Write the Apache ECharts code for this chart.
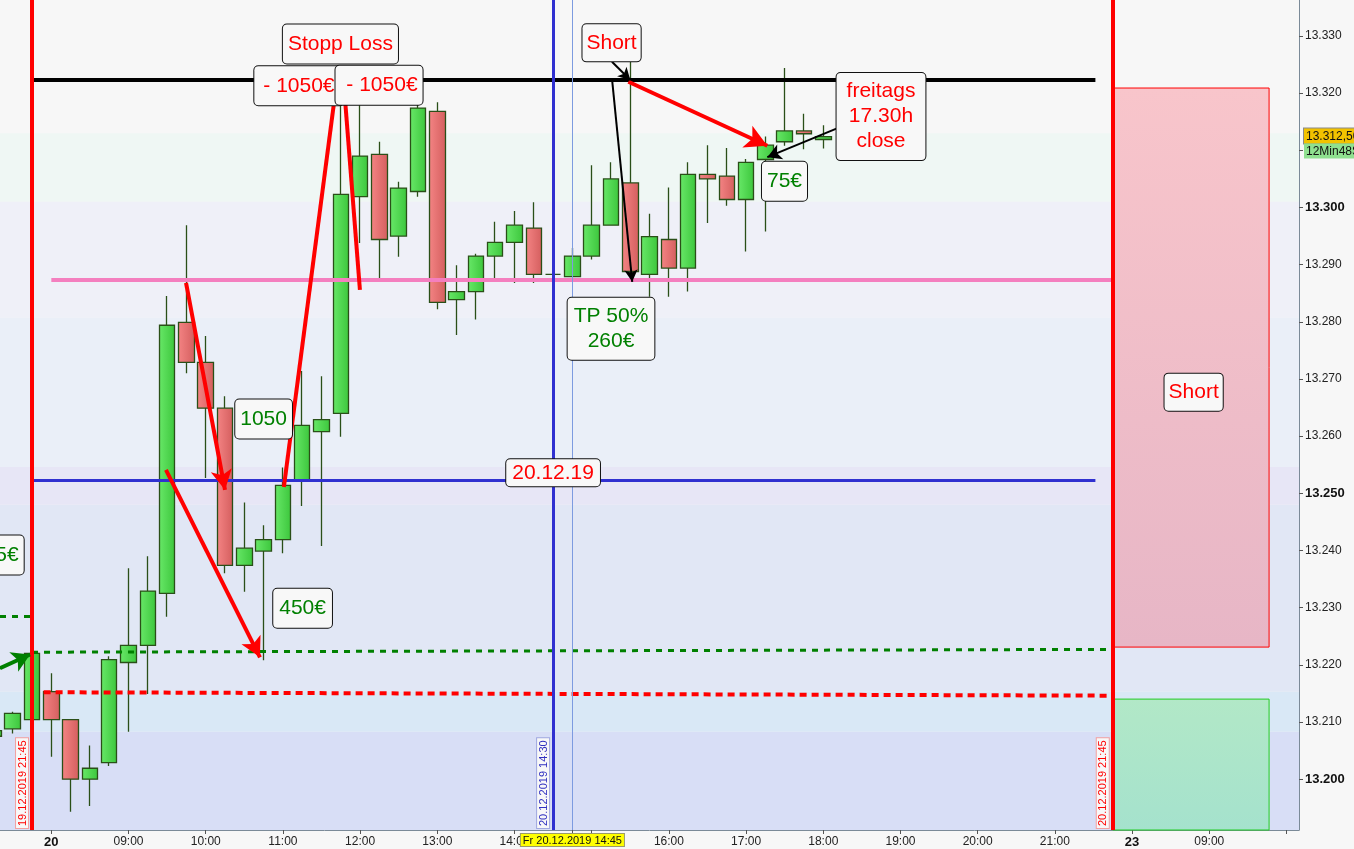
<!DOCTYPE html>
<html>
<head>
<meta charset="utf-8">
<title>DAX 15 Min - 20.12.2019</title>
<script src="https://cdn.jsdelivr.net/npm/echarts@6/dist/echarts.min.js"></script>
<style>
  html, body { margin: 0; padding: 0; background: #f7f7f7; }
  #chart { width: 1354px; height: 849px; }
</style>
</head>
<body>
<div id="chart"></div>
<script>
// 15 min candles, index 0 = Fr 20.12.2019 08:00 (negative = 19.12 evening)
const candleIdx = [-3, -2, -1, 0, 1, 2, 3, 4, 5, 6, 7, 8, 9, 10, 11, 12, 13, 14, 15, 16, 17, 18, 19,
  20, 21, 22, 23, 24, 25, 26, 27, 28, 29, 30, 31, 32, 33, 34, 35, 36, 37, 38, 39, 40];
const opens = [13207.5, 13208.8, 13210.4, 13215.3, 13210.4, 13200.0, 13202.9, 13220.4, 13223.4, 13232.5,
  13279.9, 13272.9, 13264.9, 13237.4, 13239.9, 13241.9, 13252.4, 13260.8, 13264.0, 13301.9, 13309.3,
  13295.0, 13302.8, 13316.8, 13283.9, 13285.3, 13291.5, 13293.9, 13296.4, 13288.3, 13287.9, 13291.5,
  13296.9, 13304.3, 13288.3, 13294.4, 13289.4, 13305.8, 13305.5, 13301.4, 13308.4, 13311.5, 13313.4, 13311.9];
const closes = [13208.5, 13211.5, 13222.0, 13210.4, 13200.0, 13201.9, 13220.9, 13223.4, 13232.9, 13279.4,
  13272.9, 13264.9, 13237.4, 13240.4, 13241.9, 13251.4, 13261.9, 13262.9, 13302.3, 13309.0, 13294.4,
  13303.4, 13317.4, 13283.4, 13285.3, 13291.5, 13293.9, 13296.9, 13288.3, 13288.3, 13291.5, 13296.9,
  13305.0, 13288.8, 13294.9, 13289.4, 13305.8, 13305.0, 13301.4, 13307.9, 13310.9, 13313.4, 13312.9, 13312.4];
const lows = [13206.5, 13208.0, 13210.0, 13203.9, 13194.3, 13195.3, 13202.3, 13208.3, 13214.9, 13228.4,
  13271.0, 13252.7, 13236.0, 13232.8, 13220.8, 13239.5, 13247.8, 13240.8, 13259.9, 13293.8, 13287.6,
  13291.4, 13301.9, 13282.2, 13277.7, 13280.4, 13287.6, 13286.8, 13286.8, 13288.3, 13287.9, 13290.9,
  13296.9, 13288.5, 13284.4, 13284.4, 13285.3, 13297.3, 13300.3, 13292.3, 13295.8, 13310.8, 13310.2, 13310.3];
const highs = [13209.0, 13211.8, 13222.5, 13218.5, 13210.4, 13205.9, 13221.5, 13236.9, 13239.0, 13284.5,
  13296.9, 13277.5, 13267.0, 13248.4, 13244.4, 13254.5, 13271.4, 13270.5, 13318.0, 13317.9, 13311.5,
  13304.5, 13318.4, 13318.4, 13289.9, 13291.9, 13297.5, 13299.4, 13300.9, 13288.3, 13292.9, 13307.4,
  13307.9, 13326.0, 13298.9, 13303.5, 13307.9, 13310.9, 13310.4, 13308.5, 13312.4, 13324.4, 13316.4, 13314.4];

// axis ticks
const xTickIdx = [0, 4, 8, 12, 16, 20, 24, 28, 32, 36, 40, 44, 48, 52, 56, 60];
const xTickText = ['20', '09:00', '10:00', '11:00', '12:00', '13:00', '14:00', '15:00', '16:00',
  '17:00', '18:00', '19:00', '20:00', '21:00', '23', '09:00'];
const yTicks = [13200, 13210, 13220, 13230, 13240, 13250, 13260, 13270, 13280, 13290, 13300, 13310, 13320, 13330];

// levels drawn into the chart
const stopLevel = 13322.3;
const entryLevel = 13287.3;
const dayLevel = 13252.3;
const greenLevel = [13222.2, 13222.7];
const redLevel = [13215.2, 13214.6];
const oldGreenLevel = 13228.5;
const sessionLines = [-1, 55];
const markerLine = 26;
const cursorIdx = 27;
const lastPrice = 13312.5;
const shortZone = [13320.9, 13223.1];
const longZone = 13214.0;

// background profile bands (value edges)
const bandEdges = [13336.3, 13313.0, 13301.0, 13280.7, 13254.6, 13248.0, 13215.3, 13208.3, 13191.1];
const bandColors = ['#f7f7f7', '#eff7f4', '#eff0f8', '#eaeff8', '#e7e6f6', '#e1e7f5', '#d9e8f6', '#d8def6'];

const xMin = -2.66, xMax = 64.65, yMin = 13191.1, yMax = 13336.3;

const RED = '#ff0000', GREEN = '#008000';

const chart = echarts.init(document.getElementById('chart'));

const candleData = candleIdx.map((x, k) => [x, opens[k], closes[k], lows[k], highs[k]]);

function seg(x1, y1, x2, y2, style, arrow) {
  return [
    { coord: [x1, y1], symbol: 'none', lineStyle: style },
    { coord: [x2, y2], symbol: arrow ? 'arrow' : 'none', symbolSize: arrow || 0 }
  ];
}

const thick = (c) => ({ color: c, width: 4, type: 'solid', opacity: 1 });

const boxLabel = (text, color, pad) => ({
  show: true,
  position: 'inside',
  formatter: text,
  color: color,
  fontSize: 21,
  lineHeight: 25,
  fontFamily: 'Liberation Sans, Arial, sans-serif',
  backgroundColor: '#f8f8f8',
  borderColor: '#111',
  borderWidth: 1,
  borderRadius: 4,
  padding: pad || [7, 6],
  align: 'center'
});

const boxes = [
  { coord: [12.83, 13321.3], label: boxLabel('- 1050€', RED, [7, 9]) },
  { coord: [16.98, 13321.4], label: boxLabel(' - 1050€', RED, [7, 5]) },
  { coord: [14.98, 13328.6], label: boxLabel('Stopp Loss', RED, [7, 5]) },
  { coord: [29.03, 13328.8], label: boxLabel('Short', RED, [6, 4]) },
  { coord: [42.99, 13315.9], label: boxLabel('freitags\n17.30h\nclose', RED, [6, 10]) },
  { coord: [37.99, 13304.6], label: boxLabel('75€', GREEN, [7, 5]) },
  { coord: [29.0, 13278.8], label: boxLabel('TP 50%\n260€', GREEN, [6, 6]) },
  { coord: [11.0, 13263.0], label: boxLabel('1050', GREEN, [7, 5]) },
  { coord: [26.0, 13253.6], label: boxLabel('20.12.19', RED, [1, 6]) },
  { coord: [13.02, 13229.9], label: boxLabel('450€', GREEN, [7, 6]) },
  { coord: [-2.6, 13239.2], label: boxLabel('75€', GREEN, [7, 5]) },
  { coord: [59.19, 13267.7], label: boxLabel('Short', RED, [6, 4]) }
];

const vLabel = (text, color, border) => ({
  show: true,
  position: 'insideStartTop',
  formatter: text,
  color: color,
  fontSize: 11,
  fontFamily: 'Liberation Sans, Arial, sans-serif',
  backgroundColor: '#f8f8f8',
  borderColor: border,
  borderWidth: 1,
  padding: [1, 2, 0, 2],
  distance: [2, 4]
});

const option = {
  animation: false,
  backgroundColor: '#f7f7f7',
  textStyle: { fontFamily: 'Liberation Sans, Arial, sans-serif' },
  grid: { left: 0, right: 55, top: 0, bottom: 19, containLabel: false },
  xAxis: {
    type: 'value',
    min: xMin,
    max: xMax,
    splitLine: { show: false },
    axisLine: { show: true, onZero: false, lineStyle: { color: '#7b8a98', width: 1 } },
    axisTick: {
      show: true, length: 4, lineStyle: { color: '#555' },
      customValues: xTickIdx.concat([64, cursorIdx])
    },
    axisLabel: {
      customValues: xTickIdx,
      color: '#222',
      fontSize: 12,
      margin: 6,
      formatter: (v) => {
        const t = xTickText[xTickIdx.indexOf(Math.round(v))] || '';
        return t.indexOf(':') < 0 ? '{d|' + t + '}' : t;
      },
      rich: { d: { fontWeight: 'bold', fontSize: 13, color: '#111' } }
    }
  },
  yAxis: {
    type: 'value',
    position: 'right',
    min: yMin,
    max: yMax,
    scale: true,
    splitLine: { show: false },
    axisLine: { show: true, onZero: false, lineStyle: { color: '#7b8a98', width: 1 } },
    axisTick: { show: true, length: 4, lineStyle: { color: '#555' }, customValues: yTicks },
    axisLabel: {
      customValues: yTicks,
      color: '#222',
      fontSize: 12,
      margin: 6,
      formatter: (v) => {
        const s = (v / 1000).toFixed(3);
        return v % 50 === 0 ? '{b|' + s + '}' : s;
      },
      rich: { b: { fontWeight: 'bold', fontSize: 13, color: '#111' } }
    }
  },
  series: [
    {
      name: 'bands',
      type: 'line',
      data: [],
      silent: true,
      markArea: {
        silent: true,
        z: 0,
        data: bandColors.map((c, k) => [
          { yAxis: bandEdges[k], itemStyle: { color: c } },
          { yAxis: bandEdges[k + 1] }
        ])
      }
    },
    {
      name: 'zones',
      type: 'line',
      data: [],
      silent: true,
      markArea: {
        silent: true,
        z: 1,
        data: [
          [{
            coord: [55.0, shortZone[0]],
            itemStyle: {
              color: new echarts.graphic.LinearGradient(0, 0, 0, 1, [
                { offset: 0, color: '#f8c5cb' }, { offset: 1, color: '#e7b6c6' }]),
              borderColor: '#ff0000', borderWidth: 1
            }
          }, { coord: [63.1, shortZone[1]] }],
          [{
            coord: [55.0, longZone],
            itemStyle: {
              color: new echarts.graphic.LinearGradient(0, 0, 0, 1, [
                { offset: 0, color: '#b2e8c7' }, { offset: 1, color: '#a5e2cd' }]),
              borderColor: '#22cc22', borderWidth: 1
            }
          }, { coord: [63.1, yMin] }]
        ]
      }
    },
    {
      name: 'FDAX',
      type: 'candlestick',
      data: candleData,
      encode: { x: 0, y: [1, 2, 3, 4] },
      barWidth: 16,
      z: 2,
      itemStyle: {
        color: new echarts.graphic.LinearGradient(0, 0, 1, 0, [
          { offset: 0, color: '#68e868' }, { offset: 1, color: '#3cc63c' }]),
        color0: new echarts.graphic.LinearGradient(0, 0, 1, 0, [
          { offset: 0, color: '#f48484' }, { offset: 1, color: '#d45e5e' }]),
        borderColor: '#2a4f18',
        borderColor0: '#2a4f18',
        borderColorDoji: '#2a4f18',
        borderWidth: 1.3
      }
    },
    {
      name: 'levels',
      type: 'line',
      data: [],
      silent: true,
      markLine: {
        silent: true,
        z: 5,
        symbol: ['none', 'none'],
        label: { show: false },
        data: [
          seg(-1, stopLevel, 54.1, stopLevel, { color: '#000', width: 4, type: 'solid' }),
          seg(0, entryLevel, 55, entryLevel, { color: '#f47fbf', width: 4, type: 'solid' }),
          seg(-1, dayLevel, 54.1, dayLevel, { color: '#3030d0', width: 3, type: 'solid' }),
          seg(-1, greenLevel[0], 55, greenLevel[1], { color: '#008000', width: 3, type: [6, 6] }),
          seg(xMin, oldGreenLevel, -1.1, oldGreenLevel, { color: '#008000', width: 3, type: [6, 6] }),
          seg(-0.4, redLevel[0], 55, redLevel[1], { color: '#ff0000', width: 4, type: [7, 5] }),
          // vertical markers
          [{ coord: [sessionLines[0], yMin], lineStyle: { color: '#ff0000', width: 4, type: 'solid' },
             label: vLabel('19.12.2019 21:45', '#ff0000', '#f2a0a0') }, { coord: [sessionLines[0], yMax] }],
          [{ coord: [sessionLines[1], yMin], lineStyle: { color: '#ff0000', width: 4, type: 'solid' },
             label: vLabel('20.12.2019 21:45', '#ff0000', '#f2a0a0') }, { coord: [sessionLines[1], yMax] }],
          [{ coord: [markerLine, yMin], lineStyle: { color: '#3030d0', width: 3, type: 'solid' },
             label: vLabel('20.12.2019 14:30', '#3030c0', '#a0a8e0') }, { coord: [markerLine, yMax] }],
          [{ coord: [cursorIdx, yMin], lineStyle: { color: '#7d9be0', width: 1, type: 'solid' },
             label: {
               show: true, position: 'start', distance: 4,
               formatter: 'Fr 20.12.2019 14:45', color: '#111', fontSize: 11,
               backgroundColor: '#ffff00', borderColor: '#9a9a6a', borderWidth: 1, padding: [1, 2, 0, 2]
             } }, { coord: [cursorIdx, yMax] }],
          [{ coord: [xMin, lastPrice], lineStyle: { color: 'rgba(0,0,0,0)', width: 0 },
             label: {
               show: true, position: 'end', distance: 5,
               formatter: '{a|13.312,50}\n{b|12Min48S}',
               padding: [15, 0, 0, 0],
               rich: {
                 a: { backgroundColor: '#f2c200', color: '#111', fontSize: 12, width: 50, height: 14,
                      padding: [1, 0, 0, 2], borderColor: '#8a8a8a', borderWidth: 1 },
                 b: { backgroundColor: '#8fe08f', color: '#111', fontSize: 12, width: 50, height: 14,
                      padding: [1, 0, 0, 2] }
               }
             } }, { coord: [xMax, lastPrice] }]
        ]
      }
    },
    {
      name: 'arrows',
      type: 'line',
      data: [],
      silent: true,
      markLine: {
        silent: true,
        z: 6,
        label: { show: false },
        data: [
          seg(6.98, 13286.8, 9.0, 13250.6, thick(RED), [16, 20]),
          seg(5.94, 13254.1, 10.81, 13221.3, thick(RED), [16, 20]),
          seg(12.05, 13251.1, 14.7, 13319.7, thick(RED)),
          seg(15.2, 13319.7, 15.99, 13285.6, thick(RED)),
          seg(29.9, 13322.0, 37.1, 13310.8, thick(RED), [18, 22]),
          seg(xMin, 13219.4, -1.1, 13221.8, thick(GREEN), [16, 18]),
          seg(29.05, 13325.5, 30.0, 13322.3, { color: '#000', width: 2, type: 'solid' }, [10, 12]),
          seg(29.05, 13322.6, 30.1, 13287.0, { color: '#000', width: 2, type: 'solid' }, [10, 12]),
          seg(40.9, 13314.1, 37.1, 13308.8, { color: '#000', width: 2, type: 'solid' }, [12, 14])
        ]
      }
    },
    {
      name: 'notes',
      type: 'line',
      data: [],
      silent: true,
      markPoint: {
        silent: true,
        z: 8,
        symbol: 'rect',
        symbolSize: 0,
        data: boxes
      }
    }
  ]
};

chart.setOption(option);
</script>
</body>
</html>
